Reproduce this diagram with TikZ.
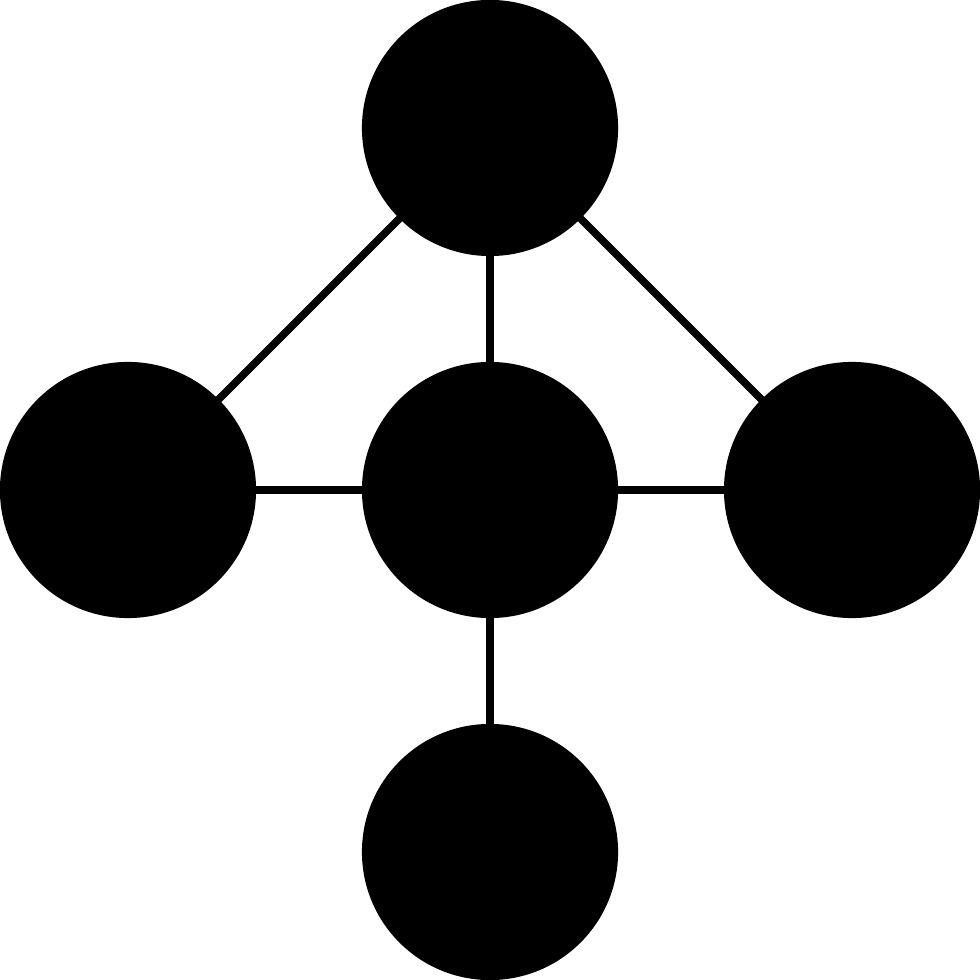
\documentclass[tikz,border=0pt]{standalone}
\begin{document}
\begin{tikzpicture}[x=0.01cm,y=-0.01cm,
  dot/.style={circle,fill=black,draw=none,minimum size=2.56cm,inner sep=0pt,outer sep=0pt},
  link/.style={draw=black,line width=0.075cm,shorten <=-3pt,shorten >=-3pt}]
\useasboundingbox (0,0) rectangle (980,980);
\node[dot] (top) at (490,128) {};
\node[dot] (mid) at (490,490) {};
\node[dot] (left) at (128,490) {};
\node[dot] (right) at (852,490) {};
\node[dot] (bot) at (490,852) {};
\draw[link] (top) -- (left);
\draw[link] (top) -- (right);
\draw[link] (top) -- (mid);
\draw[link] (mid) -- (left);
\draw[link] (mid) -- (right);
\draw[link] (mid) -- (bot);
\end{tikzpicture}
\end{document}
